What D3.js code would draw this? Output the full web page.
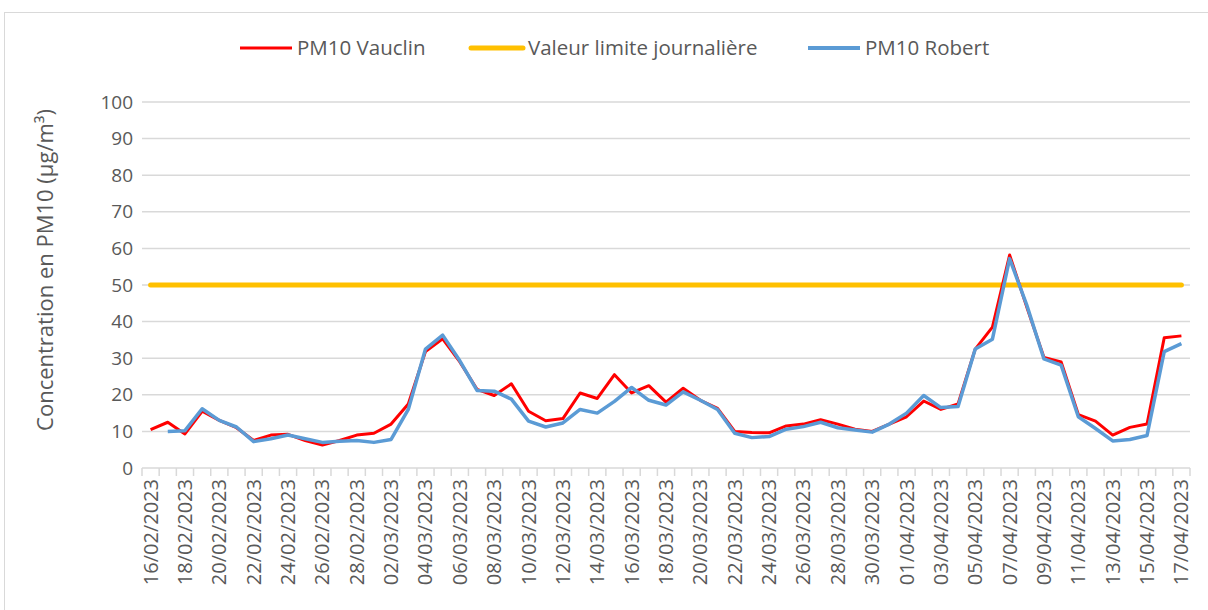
<!DOCTYPE html>
<meta charset="utf-8">
<head>
	<title>PM10 Vauclin / Robert</title>
</head>
<style>
	body { margin: 0; background: #fff; }
	text { font-family: "Open Sans", sans-serif; fill: #595959; }
</style>
<body>
<svg width="1208" height="610"></svg>
<script src="https://cdnjs.cloudflare.com/ajax/libs/d3/7.8.5/d3.min.js"></script>
<script>

var dates = ["16/02/2023","17/02/2023","18/02/2023","19/02/2023","20/02/2023","21/02/2023","22/02/2023","23/02/2023","24/02/2023","25/02/2023",
	"26/02/2023","27/02/2023","28/02/2023","01/03/2023","02/03/2023","03/03/2023","04/03/2023","05/03/2023","06/03/2023","07/03/2023",
	"08/03/2023","09/03/2023","10/03/2023","11/03/2023","12/03/2023","13/03/2023","14/03/2023","15/03/2023","16/03/2023","17/03/2023",
	"18/03/2023","19/03/2023","20/03/2023","21/03/2023","22/03/2023","23/03/2023","24/03/2023","25/03/2023","26/03/2023","27/03/2023",
	"28/03/2023","29/03/2023","30/03/2023","31/03/2023","01/04/2023","02/04/2023","03/04/2023","04/04/2023","05/04/2023","06/04/2023",
	"07/04/2023","08/04/2023","09/04/2023","10/04/2023","11/04/2023","12/04/2023","13/04/2023","14/04/2023","15/04/2023","16/04/2023",
	"17/04/2023"];

var vauclin = [10.5,12.5,9.3,15.5,13,11,7.5,9,9.2,7.5,
	6.3,7.5,9,9.5,12,17.5,31.8,35.3,29,21.5,
	19.8,23,15.5,12.9,13.5,20.5,19,25.5,20.5,22.5,
	18,21.8,18.5,16.3,10,9.7,9.6,11.5,12,13.2,
	12,10.6,10,12,14,18.3,16,17.5,32.5,38.5,
	58.2,44,30.2,29,14.6,12.8,9,11.1,12,35.6,
	36.1];

var robert = [null,10,10.2,16.2,13,11.2,7.2,8,9,8,
	7,7.3,7.5,7,7.8,16,32.5,36.3,29.3,21.2,
	21,18.8,12.8,11.2,12.3,16,15,18.2,22,18.5,
	17.2,20.8,18.5,16,9.5,8.3,8.6,10.6,11.3,12.5,
	11,10.4,9.8,12,15,19.8,16.5,16.8,32.5,35.2,
	57.2,44.5,29.8,28.1,14,10.8,7.4,7.8,8.9,31.8,
	34];

var limite = 50;
var yTicks = [0,10,20,30,40,50,60,70,80,90,100];

var svg = d3.select("svg");

// chart frame
svg.append("rect")
	.attr("x", 4.5).attr("y", 12.5)
	.attr("width", 1210).attr("height", 610)
	.attr("fill", "none").attr("stroke", "#d9d9d9");

var x = d3.scaleBand().domain(dates).range([142, 1190]);
var y = d3.scaleLinear().domain([0, 100]).range([468, 102]);
var cx = function(d) { return x(d) + x.bandwidth() / 2; };

// gridlines
svg.append("g").selectAll("line")
	.data(yTicks)
	.enter().append("line")
	.attr("x1", 142).attr("x2", 1190)
	.attr("y1", function(d) { return y(d); })
	.attr("y2", function(d) { return y(d); })
	.attr("stroke", "#d9d9d9")
	.attr("stroke-width", 1.5);

// y labels
svg.append("g").selectAll("text")
	.data(yTicks)
	.enter().append("text")
	.attr("x", 133)
	.attr("y", function(d) { return y(d); })
	.attr("dy", "0.35em")
	.attr("text-anchor", "end")
	.style("font-size", "19px")
	.text(function(d) { return d; });

// x ticks at category boundaries
var bounds = dates.map(function(d) { return x(d); }).concat([1190]);
svg.append("g").selectAll("line")
	.data(bounds)
	.enter().append("line")
	.attr("x1", function(d) { return d; })
	.attr("x2", function(d) { return d; })
	.attr("y1", 468).attr("y2", 476)
	.attr("stroke", "#d9d9d9")
	.attr("stroke-width", 1.5);

// x labels, every second date
svg.append("g").selectAll("text")
	.data(dates.filter(function(d, i) { return i % 2 === 0; }))
	.enter().append("text")
	.attr("transform", function(d) { return "translate(" + (cx(d) + 7) + ",479) rotate(-90)"; })
	.attr("text-anchor", "end")
	.style("font-size", "20px")
	.text(function(d) { return d; });

// axis title
svg.append("text")
	.attr("transform", "translate(53,270) rotate(-90)")
	.attr("text-anchor", "middle")
	.style("font-size", "22px")
	.text("Concentration en PM10 (µg/m³)");

// limit line
svg.append("line")
	.attr("x1", cx(dates[0])).attr("x2", cx(dates[dates.length - 1]))
	.attr("y1", y(limite)).attr("y2", y(limite))
	.attr("stroke", "#ffc000")
	.attr("stroke-width", 5)
	.attr("stroke-linecap", "round");

var line = d3.line()
	.defined(function(d) { return d[1] !== null; })
	.x(function(d) { return cx(d[0]); })
	.y(function(d) { return y(d[1]); });

svg.append("path")
	.datum(d3.zip(dates, vauclin))
	.attr("d", line)
	.attr("fill", "none")
	.attr("stroke", "#ff0000")
	.attr("stroke-width", 3)
	.attr("stroke-linejoin", "round");

svg.append("path")
	.datum(d3.zip(dates, robert))
	.attr("d", line)
	.attr("fill", "none")
	.attr("stroke", "#5b9bd5")
	.attr("stroke-width", 3.5)
	.attr("stroke-linejoin", "round");

// legend
var legend = [
	{name: "PM10 Vauclin", color: "#ff0000", w: 3, x: 240},
	{name: "Valeur limite journalière", color: "#ffc000", w: 5, x: 471},
	{name: "PM10 Robert", color: "#5b9bd5", w: 4, x: 808}
];
var lg = svg.append("g").selectAll("g")
	.data(legend)
	.enter().append("g")
	.attr("transform", function(d) { return "translate(" + d.x + ",48)"; });
lg.append("line")
	.attr("x1", 0).attr("x2", 52)
	.attr("stroke", function(d) { return d.color; })
	.attr("stroke-width", function(d) { return d.w; })
	.attr("stroke-linecap", function(d) { return d.w > 4 ? "round" : "butt"; });
lg.append("text")
	.attr("x", 57)
	.attr("dy", "0.35em")
	.style("font-size", "20.5px")
	.text(function(d) { return d.name; });

</script>
</body>
</html>
